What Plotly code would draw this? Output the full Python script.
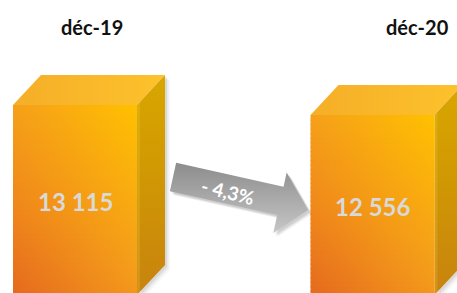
import plotly.graph_objects as go
import numpy as np

# ---------------- data ----------------
categories = ["déc-19", "déc-20"]
values = [13115, 12556]
value_labels = ["13 115", "12 556"]

# ---------------- layout constants ----------------
W, H = 457, 293
X_RANGE = [-75 / 297.5, (457 - 75) / 297.5]
Y_RANGE = [2605, 18983]
BASE = 2500  # value-axis minimum (bar base), just below the visible area

def px_x(xd):
    return (xd - X_RANGE[0]) / (X_RANGE[1] - X_RANGE[0]) * W

def px_y(yd):
    return H - (yd - Y_RANGE[0]) / (Y_RANGE[1] - Y_RANGE[0]) * H

def dx_px(p):
    return p / W * (X_RANGE[1] - X_RANGE[0])

def dy_px(p):
    return p / H * (Y_RANGE[1] - Y_RANGE[0])

def data_x(p):
    return X_RANGE[0] + dx_px(p)

def data_y(p):
    return Y_RANGE[0] + dy_px(H - p)

BAR_W = dx_px(124)
DEPTH_X = dx_px(28)
DEPTH_Y = dy_px(30)

def hex2rgb(h):
    h = h.lstrip("#")
    return np.array([int(h[i:i + 2], 16) for i in (0, 2, 4)], float)

def rgb2hex(c):
    c = np.clip(np.round(c), 0, 255).astype(int)
    return "#%02x%02x%02x" % tuple(c)

FRONT_STOPS = [(0.0, "#FFC000"), (0.45, "#F5A01A"), (0.75, "#EF861B"), (1.0, "#E5691E")]

def front_color(t):
    t = min(max(t, 0), 1)
    for (t0, c0), (t1, c1) in zip(FRONT_STOPS[:-1], FRONT_STOPS[1:]):
        if t <= t1:
            f = (t - t0) / (t1 - t0) if t1 > t0 else 0
            return rgb2hex(hex2rgb(c0) * (1 - f) + hex2rgb(c1) * f)
    return FRONT_STOPS[-1][1]

fig = go.Figure()

def poly(xs, ys, gradient=None, color=None):
    kw = dict(x=list(xs) + [xs[0]], y=list(ys) + [ys[0]], mode="lines",
              line=dict(width=0), fill="toself", hoverinfo="skip", showlegend=False)
    if gradient is not None:
        kw["fillgradient"] = gradient
        kw["fillcolor"] = color or "rgba(0,0,0,0)"
    else:
        kw["fillcolor"] = color
    fig.add_trace(go.Scatter(**kw))

for i, v in enumerate(values):
    x0, x1 = i - BAR_W / 2, i + BAR_W / 2
    # soft shadow to the right / below of the box
    for off, alpha in [(5, 0.03), (3.5, 0.05), (2, 0.07)]:
        sx, sy = dx_px(off), dy_px(off)
        poly([x1, x1 + DEPTH_X + sx, x1 + DEPTH_X + sx, x1 + sx],
             [v + DEPTH_Y - sy, v + DEPTH_Y - sy, BASE + DEPTH_Y - sy, BASE - sy],
             color="rgba(0,0,0,%.2f)" % alpha)
    # side face
    poly([x1, x1 + DEPTH_X, x1 + DEPTH_X, x1],
         [v, v + DEPTH_Y, BASE + DEPTH_Y, BASE],
         gradient=dict(type="vertical", colorscale=[[0, "#C8830E"], [0.6, "#D19A02"], [1, "#D9A600"]],
                       start=Y_RANGE[0], stop=v + DEPTH_Y))
    # subtle lighter band on the side face next to the front edge
    poly([x1, x1 + dx_px(3), x1 + dx_px(3), x1],
         [v, v + dy_px(3.2), BASE + dy_px(3.2), BASE], color="rgba(255,220,90,0.18)")
    # top face
    poly([x0, x1, x1 + DEPTH_X, x0 + DEPTH_X],
         [v, v, v + DEPTH_Y, v + DEPTH_Y],
         gradient=dict(type="horizontal", colorscale=[[0, "#F5AE28"], [1, "#FDC22C"]],
                       start=x0, stop=x1 + DEPTH_X))
    # front face, drawn as horizontal strips to fake a diagonal gradient
    n = 40
    edges = np.linspace(v, BASE, n + 1)
    for k in range(n):
        ya, yb = edges[k], edges[k + 1]
        ymid = (ya + yb) / 2
        yfrac = (v - ymid) / (v - BASE)
        cl = front_color(0.45 + 0.55 * yfrac)
        cr = front_color(0.0 + 0.55 * yfrac)
        ybot = BASE if k == n - 1 else yb - (ya - yb) * 0.3
        poly([x0, x1, x1, x0], [ya, ya, ybot, ybot],
             gradient=dict(type="horizontal", colorscale=[[0, cl], [1, cr]], start=x0, stop=x1))

# ---------------- arrow (decoration between the two boxes) ----------------
theta = np.deg2rad(12.5)
u = np.array([np.cos(theta), np.sin(theta)])
nvec = np.array([-np.sin(theta), np.cos(theta)])
origin = np.array([px_x(0 + BAR_W / 2 + DEPTH_X) + 8, 177.0])
BODY, HEAD_U, HEAD, TIP = 14.5, 110, 29, 139
local = [(0, -BODY), (HEAD_U, -BODY), (HEAD_U, -HEAD), (TIP, 3), (HEAD_U, HEAD + 4), (HEAD_U, BODY), (0, BODY)]
pts = [origin + a * u + b * nvec for a, b in local]
# soft shadow
for off, alpha in [(4, 0.05), (3, 0.07), (2, 0.08)]:
    poly([data_x(p[0] + off) for p in pts], [data_y(p[1] + off) for p in pts],
         color="rgba(0,0,0,%.2f)" % alpha)
ys_px = [p[1] for p in pts]
poly([data_x(p[0]) for p in pts], [data_y(p[1]) for p in pts],
     gradient=dict(type="vertical", colorscale=[[0, "#C6C6C6"], [0.5, "#A9A9A9"], [1, "#8C8C8C"]],
                   start=data_y(max(ys_px)), stop=data_y(min(ys_px))))

pct = (values[1] - values[0]) / values[0] * 100
pct_text = ("- " if pct < 0 else "+ ") + ("%.1f" % abs(pct)).replace(".", ",") + "%"
mid = origin + 57 * u + 2 * nvec

annotations = []
annotations.append(dict(x=data_x(mid[0]), y=data_y(mid[1]), xref="x", yref="y", text=pct_text,
                        showarrow=False, textangle=14,
                        font=dict(family="Lato", size=19, color="white", weight="bold")))

label_px = [92, 417]
for i, c in enumerate(categories):
    annotations.append(dict(x=label_px[i] / W, y=1 - 27 / H, xref="paper", yref="paper", text=c,
                            showarrow=False, xanchor="center", yanchor="middle",
                            font=dict(family="Lato", size=20, color="#111111", weight="bold")))
for i, v in enumerate(values):
    annotations.append(dict(x=i, y=(v + BASE) / 2, xref="x", yref="y", text=value_labels[i],
                            showarrow=False, yshift=-2, xanchor="center", yanchor="middle",
                            font=dict(family="Lato", size=24, color="#D9D9D9", weight="bold")))

fig.update_layout(
    width=W, height=H, margin=dict(l=0, r=0, t=0, b=0),
    paper_bgcolor="white", plot_bgcolor="white",
    xaxis=dict(range=X_RANGE, visible=False, fixedrange=True),
    yaxis=dict(range=Y_RANGE, visible=False, fixedrange=True),
    annotations=annotations, showlegend=False, hovermode=False,
)

fig.write_html("out.html", config=dict(displayModeBar=False),
               post_script="document.body.style.margin='0';document.body.style.overflow='hidden';")
